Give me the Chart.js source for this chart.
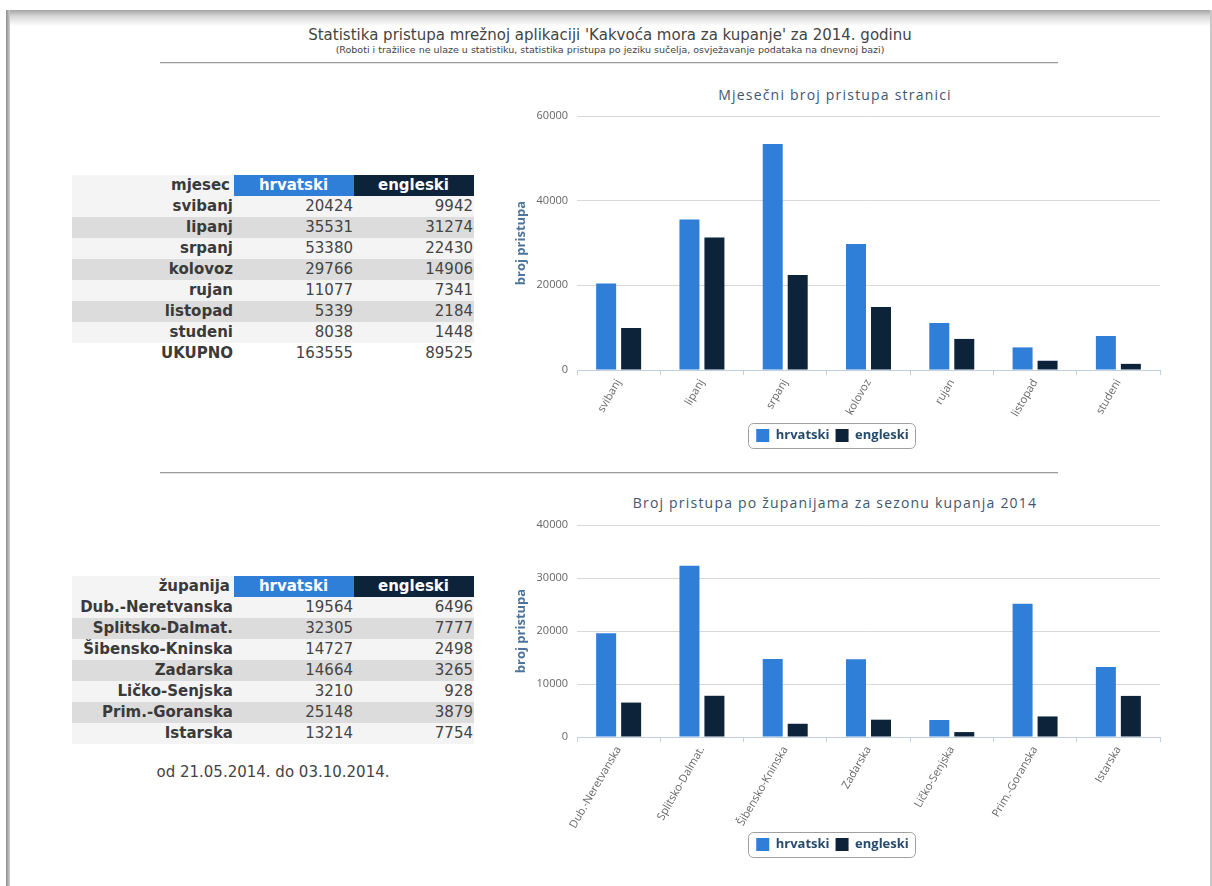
<!DOCTYPE html>
<html>
<head>
<meta charset="utf-8">
<title>Statistika pristupa</title>
<script src="https://cdn.jsdelivr.net/npm/chart.js@4.4.1/dist/chart.umd.min.js"></script>
<style>
    html, body {
        margin: 0;
        padding: 0;
        background: #fff;
        width: 1212px;
        height: 886px;
        overflow: hidden;
        font-family: "DejaVu Sans", Verdana, sans-serif;
        color: #333;
    }
    .frame-top {
        position: absolute;
        left: 6px;
        top: 10px;
        right: 0;
        height: 16px;
        background: linear-gradient(#a4a4a4, #d6d6d6 6px, #fff);
    }
    .frame-left {
        position: absolute;
        left: 6px;
        top: 10px;
        bottom: 0;
        width: 4px;
        background: linear-gradient(90deg, #8c8c8c, #d0d0d0);
    }
    .frame-right {
        position: absolute;
        right: 0;
        top: 10px;
        bottom: 0;
        width: 2px;
        background: #c8c8c8;
    }
    .head {
        position: absolute;
        left: 0;
        width: 1220px;
        top: 26px;
        text-align: center;
        color: #444;
    }
    .head .title {
        font-size: 15px;
        line-height: 18px;
    }
    .head .sub {
        font-size: 9.5px;
        line-height: 12px;
    }
    .rule {
        position: absolute;
        left: 160px;
        width: 898px;
        height: 0;
        border-top: 1px solid #9a9a9a;
        border-bottom: 1px solid #e4e4e4;
    }
    table.stat {
        position: absolute;
        left: 72px;
        width: 402px;
        table-layout: fixed;
        border-collapse: collapse;
        font-size: 15px;
    }
    table.stat td, table.stat th {
        box-sizing: border-box;
        height: 21px;
        padding: 0 1px 0 0;
        line-height: 21px;
        white-space: nowrap;
        overflow: visible;
    }
    table.stat .lbl {
        width: 162px;
        text-align: right;
        font-weight: bold;
        color: #3a3a3a;
    }
    table.stat th.lbl {
        padding-right: 4px;
    }
    table.stat td.num {
        text-align: right;
        color: #444;
    }
    table.stat th.hr, table.stat th.en {
        width: 120px;
        color: #fff;
        text-align: center;
        font-weight: bold;
    }
    table.stat th.hr { background: #2f7ed8; }
    table.stat th.en { background: #0d233a; }
    table.stat tr.light { background: #f4f4f4; }
    table.stat tr.dark { background: #dcdcdc; }
    table.stat tr.plain { background: #fff; }
    .period {
        position: absolute;
        left: 72px;
        width: 402px;
        top: 763px;
        text-align: center;
        font-size: 15px;
        color: #444;
    }
    .chart-title {
        position: absolute;
        left: 500px;
        width: 670px;
        text-align: center;
        font-family: "Open Sans", sans-serif;
        font-size: 14px;
        letter-spacing: 1.2px;
        line-height: 20px;
        color: #3e576f;
    }
    .chart-box {
        position: absolute;
        left: 505px;
        width: 665px;
        height: 360px;
    }
</style>
</head>
<body>
<div class="frame-top"></div>
<div class="frame-left"></div>
<div class="frame-right"></div>

<div class="head">
    <div class="title">Statistika pristupa mrežnoj aplikaciji 'Kakvoća mora za kupanje' za 2014. godinu</div>
    <div class="sub">(Roboti i tražilice ne ulaze u statistiku, statistika pristupa po jeziku sučelja, osvježavanje podataka na dnevnoj bazi)</div>
</div>
<div class="rule" style="top: 62px;"></div>
<div class="rule" style="top: 472px;"></div>

<table class="stat" id="monthTable" style="top: 175px;"></table>
<table class="stat" id="countyTable" style="top: 576px;"></table>
<div class="period">od 21.05.2014. do 03.10.2014.</div>

<div class="chart-title" style="top: 85px;">Mjesečni broj pristupa stranici</div>
<div class="chart-title" style="top: 493px;">Broj pristupa po županijama za sezonu kupanja 2014</div>
<div class="chart-box" style="top: 100px;"><canvas id="monthChart"></canvas></div>
<div class="chart-box" style="top: 508px;"><canvas id="countyChart"></canvas></div>

<script>
// Mjesecni podaci
const months = ['svibanj', 'lipanj', 'srpanj', 'kolovoz', 'rujan', 'listopad', 'studeni'];
const monthHr = [20424, 35531, 53380, 29766, 11077, 5339, 8038];
const monthEn = [9942, 31274, 22430, 14906, 7341, 2184, 1448];

// Podaci po zupanijama
const counties = ['Dub.-Neretvanska', 'Splitsko-Dalmat.', 'Šibensko-Kninska', 'Zadarska', 'Ličko-Senjska', 'Prim.-Goranska', 'Istarska'];
const countyHr = [19564, 32305, 14727, 14664, 3210, 25148, 13214];
const countyEn = [6496, 7777, 2498, 3265, 928, 3879, 7754];

const monthTicks = [0, 20000, 40000, 60000];
const countyTicks = [0, 10000, 20000, 30000, 40000];

const COLOR_HR = '#2f7ed8';
const COLOR_EN = '#0d233a';

function fillTable(id, firstHeader, labels, hr, en, totalLabel) {
    const table = document.getElementById(id);
    let html = `<tr class="light"><th class="lbl">${firstHeader}</th><th class="hr">hrvatski</th><th class="en">engleski</th></tr>`;
    labels.forEach((label, i) => {
        const cls = i % 2 === 0 ? 'light' : 'dark';
        html += `<tr class="${cls}"><td class="lbl">${label}</td><td class="num">${hr[i]}</td><td class="num">${en[i]}</td></tr>`;
    });
    if (totalLabel) {
        const sum = arr => arr.reduce((a, b) => a + b, 0);
        html += `<tr class="plain"><td class="lbl">${totalLabel}</td><td class="num">${sum(hr)}</td><td class="num">${sum(en)}</td></tr>`;
    }
    table.innerHTML = html;
}

fillTable('monthTable', 'mjesec', months, monthHr, monthEn, 'UKUPNO');
fillTable('countyTable', 'županija', counties, countyHr, countyEn, null);

// Okvir oko legende (kao u Highcharts)
const legendBorder = {
    id: 'legendBorder',
    afterDraw(chart) {
        const boxes = chart.legend && chart.legend.legendHitBoxes;
        if (!boxes || !boxes.length) return;
        const left = Math.min(...boxes.map(b => b.left)) - 8;
        const right = Math.max(...boxes.map(b => b.left + b.width)) + 6;
        const top = Math.min(...boxes.map(b => b.top)) - 6;
        const bottom = Math.max(...boxes.map(b => b.top + b.height)) + 6;
        const ctx = chart.ctx;
        ctx.save();
        ctx.strokeStyle = '#a0a0a0';
        ctx.lineWidth = 1;
        ctx.beginPath();
        ctx.roundRect(Math.round(left) + 0.5, Math.round(top) + 0.5, Math.round(right - left), Math.round(bottom - top), 5);
        ctx.stroke();
        ctx.restore();
    }
};

function buildChart(id, labels, hr, en, ticks, xHeight, padding) {
    const ctx = document.getElementById(id).getContext('2d');
    return new Chart(ctx, {
        type: 'bar',
        data: {
            labels,
            datasets: [
                {
                    label: 'hrvatski',
                    data: hr,
                    backgroundColor: COLOR_HR,
                    borderWidth: 0,
                    categoryPercentage: 0.6,
                    barPercentage: 0.8
                },
                {
                    label: 'engleski',
                    data: en,
                    backgroundColor: COLOR_EN,
                    borderWidth: 0,
                    categoryPercentage: 0.6,
                    barPercentage: 0.8
                }
            ]
        },
        options: {
            responsive: true,
            maintainAspectRatio: false,
            animation: false,
            layout: { padding },
            plugins: {
                title: { display: false },
                legend: {
                    position: 'bottom',
                    labels: {
                        boxWidth: 13,
                        boxHeight: 13,
                        padding: 6,
                        color: '#274b6d',
                        font: { size: 13, family: 'Open Sans', weight: 'bold' }
                    }
                },
                tooltip: { enabled: false }
            },
            scales: {
                x: {
                    afterFit: axis => { axis.height = xHeight; },
                    grid: {
                        offset: true,
                        drawOnChartArea: false,
                        color: '#c0d0e0',
                        tickLength: 5
                    },
                    border: { color: '#c0d0e0' },
                    ticks: {
                        minRotation: 60,
                        maxRotation: 60,
                        color: '#666',
                        padding: 2,
                        font: { size: 11, family: 'Open Sans' }
                    }
                },
                y: {
                    min: 0,
                    max: ticks[ticks.length - 1],
                    afterBuildTicks: axis => {
                        axis.ticks = ticks.map(v => ({ value: v }));
                    },
                    afterFit: axis => { axis.width = 72; },
                    grid: { color: '#d8d8d8', drawTicks: false },
                    border: { display: false },
                    ticks: {
                        color: '#666',
                        padding: 9,
                        callback: v => String(v),
                        font: { size: 11, family: 'Open Sans' }
                    },
                    title: {
                        display: true,
                        text: 'broj pristupa',
                        color: '#4d759e',
                        padding: { top: 8, bottom: 0 },
                        font: { size: 13, family: 'Open Sans', weight: 'bold' }
                    }
                }
            }
        },
        plugins: [legendBorder]
    });
}

buildChart('monthChart', months, monthHr, monthEn, monthTicks, 53, { top: 16, left: 0, right: 10, bottom: 8 });
buildChart('countyChart', counties, countyHr, countyEn, countyTicks, 95, { top: 17, left: 0, right: 10, bottom: 7 });
</script>
</body>
</html>
